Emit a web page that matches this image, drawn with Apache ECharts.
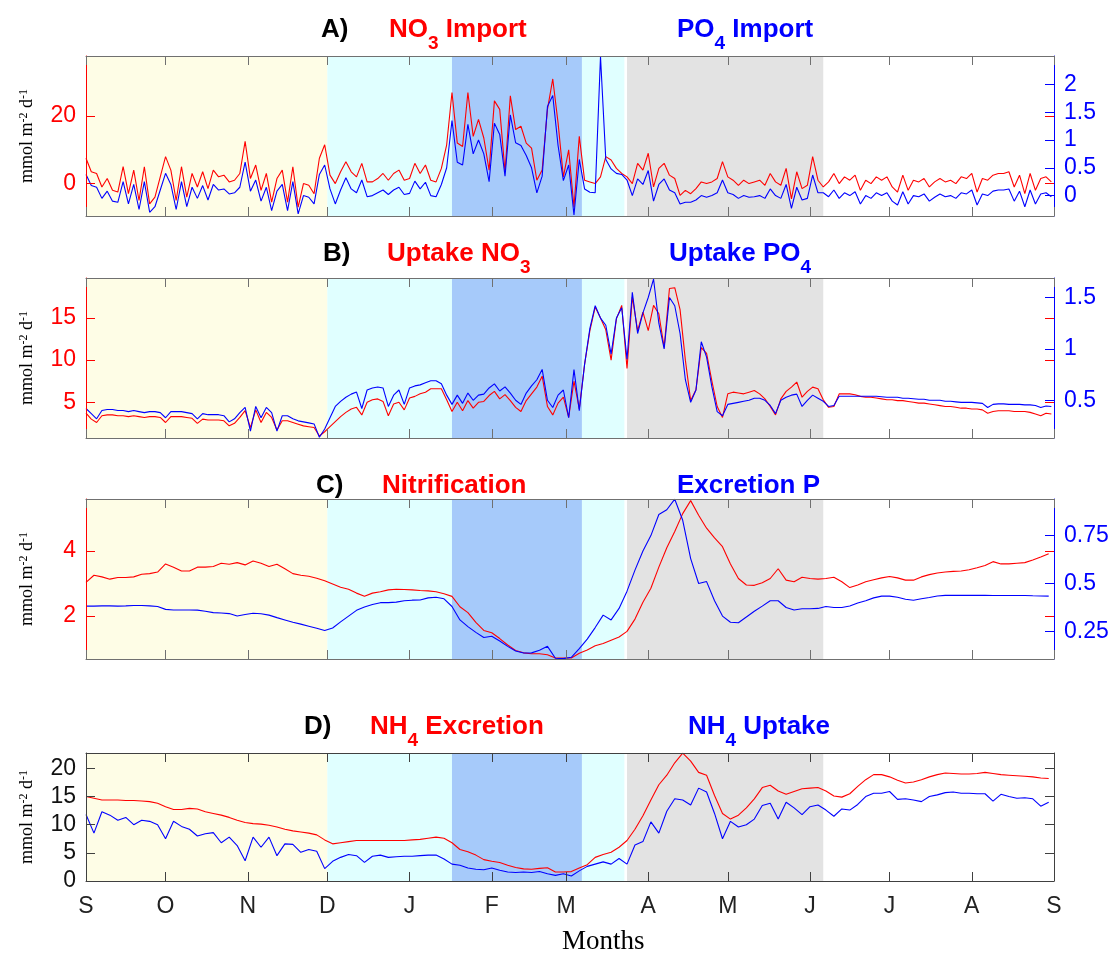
<!DOCTYPE html>
<html>
<head>
<meta charset="utf-8">
<script src="https://cdn.jsdelivr.net/npm/echarts@6/dist/echarts.min.js"></script>
<style>
html, body { margin: 0; padding: 0; background: #fff; }
#main { width: 1114px; height: 955px; }
</style>
</head>
<body>
<div id="main"></div>
<script>
// x is days since 1 September; month starts give the ticks
var monthDays = [0, 30, 61, 91, 122, 153, 181, 212, 242, 273, 303, 334, 365];
var monthLabels = ['S', 'O', 'N', 'D', 'J', 'F', 'M', 'A', 'M', 'J', 'J', 'A', 'S'];

// shaded periods, [start day, end day]
var periods = [[0, 91], [91, 138], [138, 187], [187, 203], [204, 278]];
var periodColors = ['#fefde6', '#e0ffff', '#a6cafa', '#e0ffff', '#e3e3e3'];

// A and B are read every 2 days, C and D every 3 days
var stepAB = 2;
var stepCD = 3;

// A) NO3 import (left axis) / PO4 import (right axis)
var no3Import = [
    7.5, 3.5, 3, -1, 1.5, -2, -2.5, 5, -3, 4, -5, 5, -6, -4, 2, 8, 4, -5, 5, -4,
    3, -1, 3.5, -1.5, 4, 2, 2.5, 0.5, 1, 3, 12.5, 1.5, 5.5, -2, 3, -5.5, 1.5, 4, -5.5, 5,
    -7, 0, -0.5, -3, 7.5, 11.5,
    2.5, 0, 3.5, 6.5, 3.5, 2, 6, 0.5, 0.5, 1.5, 3, 1, 3, 4, 1, 1.5, 6, 3, 5.5, 1,
    0.5, 4.5, 11.5,
    27, 12, 11, 27, 14, 19, 13.5, 4, 24.5, 22, 3.5, 26, 16, 17, 12, 10.5, 1, 4, 22, 31,
    18, 2, 10, -7, 14, 1, 0.5, 0, 2, 8, 7, 4.5, 3, 2,
    0, 6, 4, 9, -1, 4.5, 6, 2.5, 1.5, -3.5, -2, -3, -1.5, 0.5, 0, 0.5, 1.5, 6.5, 2, 1,
    -0.5, 1, 0, 0.5, 1, -0.5, 3, 0.5, -0.5, 4.5, -4.5, 3.5, -1.5, -0.5, 8, 1, -1,
    0.5, 3, 0, 2, 1, 2.5, -2, 1, 0, 2, 1, 2, -1, -2.5, 2.5, -2, 1, 0.5, 1.5, -1,
    0.5, 1.5, 0.5, 1, 0, 2, 1.5, 3, -2.5, 1.5, 1, 2.5, 3, 3, 3.5, -1, 2.5, -3, 3, -2,
    1.5, 2, 0.5
];
var po4Import = [
    0.38, 0.18, 0.15, -0.05, 0.08, -0.1, -0.12, 0.25, -0.15, 0.2, -0.25, 0.25, -0.3, -0.2, 0.1, 0.4, 0.2, -0.25, 0.25, -0.2,
    0.15, -0.05, 0.18, -0.08, 0.2, 0.1, 0.12, 0.03, 0.05, 0.15, 0.6, 0.08, 0.28, -0.1, 0.15, -0.27, 0.08, 0.2, -0.27, 0.25,
    -0.33, 0, -0.03, -0.15, 0.38, 0.55,
    0.12, -0.15, 0.1, 0.32, 0.12, 0.05, 0.28, -0.02, 0, 0.05, 0.1, 0.02, 0.1, 0.15, 0.02, 0.04, 0.26, 0.12, 0.24, 0,
    -0.02, 0.2, 0.5,
    1.35, 0.6, 0.55, 1.28, 0.75, 1.0, 0.75, 0.25, 1.3, 1.1, 0.35, 1.45, 0.95, 0.9, 0.72, 0.5, 0.05, 0.35, 1.6, 1.8,
    0.9, 0.27, 0.55, -0.35, 0.65, 0.12, 0.06, 0.05, 2.5, 0.65, 0.48, 0.4, 0.38, 0.28,
    0.0, 0.3, 0.2, 0.45, -0.1, 0.2, 0.3, 0.1, 0.05, -0.15, -0.12, -0.12, -0.08, 0.0, -0.03, 0.0, 0.05, 0.28, 0.05, 0.02,
    -0.05, 0.0, -0.03, -0.02, 0.0, -0.05, 0.12, 0.0, -0.05, 0.2, -0.23, 0.15, -0.08, -0.05, 0.37, 0.05, 0.05,
    -0.02, 0.1, -0.05, 0.05, 0.0, 0.07, -0.15, 0.0, -0.05, 0.05, 0.0, 0.05, -0.1, -0.17, 0.07, -0.15, 0.0, -0.02, 0.03, -0.1,
    -0.03, 0.03, -0.02, 0.0, -0.05, 0.05, 0.03, 0.1, -0.17, 0.03, 0.0, 0.08, 0.1, 0.1, 0.12, -0.1, 0.08, -0.2, 0.1, -0.15,
    0.03, 0.05, -0.02
];

// B) uptake NO3 (left) / uptake PO4 (right)
var uptakeNO3 = [
    3.7, 3.0, 2.6, 3.4, 3.5, 3.5, 3.4, 3.4, 3.3, 3.4, 3.3, 3.2, 3.3, 3.3, 3.2, 2.6, 3.3, 3.3, 3.3, 3.2,
    3.1, 2.5, 3.0, 2.9, 2.9, 2.9, 2.8, 2.2, 2.5, 3.2, 4.0, 2.0, 4.1, 2.6, 3.8, 3.2, 1.7, 2.8, 2.8, 2.6,
    2.4, 2.2, 2.1, 2.0, 1.0, 1.5,
    2.1, 2.7, 3.3, 3.8, 4.2, 4.4, 3.5, 5.0, 5.3, 5.4, 5.1, 3.4, 4.8, 5.0, 4.1, 5.5, 5.7, 6.0, 6.2, 6.6,
    6.6, 6.6, 5.3,
    3.9, 5.0, 4.0, 5.2, 4.3, 5.0, 5.1, 5.8, 6.3, 5.4, 5.9, 5.2, 4.4, 3.9, 5.2, 6.0, 6.8, 8.1, 4.5, 3.5,
    4.9, 5.6, 3.2, 7.5, 4.2,
    9.5, 13.5, 16.3, 15.0, 13.6, 10.0, 14.9, 16.5,
    9.0, 17.5, 13.5, 15.7, 13.5, 16.5, 15.5, 11.5, 18.5, 18.6, 16, 10, 5.2, 6.5, 11.5, 10.8, 7.5, 4.5, 3.2, 6.0,
    6.2, 6.1, 6.0, 6.2, 6.4, 6.0, 5.4, 4.5, 3.5, 5.4, 6.3, 6.8, 7.4, 5.6, 6.3, 6.8, 6.6, 5.3,
    4.4, 4.5, 6.0, 6.0, 6.0, 5.9, 5.7, 5.6, 5.6, 5.5, 5.4, 5.3, 5.3, 5.2, 5.2, 5.1, 5.0, 4.9, 4.9, 4.8,
    4.7, 4.6, 4.5, 4.5, 4.4, 4.3, 4.3, 4.2, 4.2, 4.1, 3.7, 3.9, 4.0, 4.0, 4.0, 3.9, 3.9, 3.9, 3.8, 3.6,
    3.4, 3.7, 3.6
];
var uptakePO4 = [
    0.42, 0.37, 0.32, 0.40, 0.41, 0.41, 0.40, 0.40, 0.39, 0.40, 0.39, 0.38, 0.39, 0.39, 0.38, 0.33, 0.39, 0.39, 0.39, 0.38,
    0.37, 0.32, 0.37, 0.36, 0.36, 0.36, 0.35, 0.29, 0.32, 0.38, 0.43, 0.2, 0.44, 0.33, 0.43, 0.38, 0.2, 0.35, 0.35, 0.32,
    0.3, 0.29, 0.28, 0.27, 0.14, 0.22,
    0.33, 0.44, 0.49, 0.53, 0.56, 0.58, 0.42, 0.6, 0.62, 0.63, 0.62, 0.44, 0.55, 0.6, 0.46, 0.62, 0.64, 0.65, 0.67, 0.69,
    0.69, 0.66, 0.55,
    0.46, 0.55, 0.47, 0.57, 0.5, 0.55, 0.56, 0.62, 0.66, 0.59, 0.63, 0.57, 0.5, 0.46, 0.57, 0.64, 0.7, 0.8, 0.5, 0.43,
    0.55, 0.6, 0.33, 0.8, 0.4,
    0.85, 1.2, 1.42, 1.3, 1.23, 0.95, 1.3, 1.4,
    0.9, 1.55, 1.15, 1.35, 1.5, 1.68, 1.25, 1.0, 1.5, 1.42, 1.15, 0.7, 0.48, 0.6, 1.07, 0.92, 0.63, 0.39, 0.35, 0.46,
    0.47, 0.48, 0.49, 0.5, 0.52, 0.52, 0.5, 0.45, 0.37, 0.5, 0.53, 0.55, 0.56, 0.44, 0.5, 0.55, 0.52, 0.49,
    0.44, 0.45, 0.54, 0.54, 0.54, 0.54, 0.54, 0.54, 0.54, 0.54, 0.535, 0.53, 0.53, 0.53, 0.52, 0.52, 0.515, 0.51, 0.51, 0.5,
    0.5, 0.5, 0.49, 0.49, 0.485, 0.48, 0.48, 0.48, 0.475, 0.47, 0.43, 0.46, 0.465, 0.465, 0.46, 0.46, 0.46, 0.455, 0.455, 0.45,
    0.43, 0.445, 0.44
];

// C) nitrification (left) / excretion P (right)
var nitrification = [
    3.03, 3.25, 3.2, 3.13, 3.18, 3.18, 3.2, 3.28, 3.3, 3.35,
    3.6, 3.5, 3.38, 3.38, 3.5, 3.5, 3.52, 3.62, 3.59, 3.64,
    3.57, 3.69, 3.62, 3.52, 3.59, 3.45, 3.3, 3.25, 3.22, 3.16,
    3.08, 2.98, 2.88, 2.82, 2.7, 2.6, 2.7, 2.74, 2.8, 2.82,
    2.81, 2.8, 2.78, 2.77, 2.74, 2.68, 2.6, 2.28, 2.1, 1.8,
    1.55, 1.48, 1.3, 1.1, 0.93, 0.86, 0.83, 0.83, 0.8, 0.7,
    0.7, 0.7, 0.85, 0.95, 1.08, 1.15, 1.25, 1.35, 1.52, 1.9,
    2.42, 2.85, 3.5, 4.1, 4.6, 5.15, 5.55, 5.1, 4.7, 4.4,
    4.13, 3.6, 3.15, 2.95, 2.94, 3.02, 3.15, 3.45, 3.1, 3.05,
    3.19, 3.15, 3.13, 3.15, 3.19, 3.05, 2.87, 2.95, 3.05, 3.11,
    3.17, 3.21, 3.17, 3.1, 3.1, 3.2, 3.27, 3.32, 3.35, 3.37,
    3.38, 3.42, 3.48, 3.55, 3.67, 3.6, 3.6, 3.62, 3.64, 3.72,
    3.81, 3.91
];
var excretionP = [
    0.382, 0.382, 0.383, 0.383, 0.382, 0.383, 0.385, 0.385, 0.383, 0.38,
    0.365, 0.362, 0.362, 0.362, 0.361, 0.355, 0.348, 0.346, 0.343, 0.33,
    0.338, 0.345, 0.342, 0.335, 0.322, 0.31, 0.298, 0.288, 0.277, 0.266,
    0.255, 0.268, 0.3, 0.33, 0.36, 0.377, 0.39, 0.4, 0.4, 0.403,
    0.41, 0.413, 0.414, 0.425, 0.428, 0.42, 0.38, 0.31, 0.275, 0.245,
    0.218, 0.225, 0.2, 0.172, 0.148, 0.137, 0.138, 0.152, 0.172, 0.11,
    0.108, 0.115, 0.16, 0.21, 0.27, 0.335, 0.31, 0.37, 0.46, 0.57,
    0.67, 0.75, 0.86, 0.885, 0.94, 0.83, 0.63, 0.5, 0.51, 0.41,
    0.33, 0.298, 0.295, 0.325, 0.355, 0.382, 0.41, 0.41, 0.375, 0.362,
    0.368, 0.368, 0.37, 0.38, 0.375, 0.375, 0.383, 0.398, 0.41, 0.425,
    0.434, 0.434, 0.428, 0.418, 0.413, 0.42, 0.427, 0.435, 0.438, 0.438,
    0.438, 0.439, 0.438, 0.438, 0.437, 0.437, 0.437, 0.437, 0.437, 0.436,
    0.435, 0.434
];

// D) NH4 excretion / NH4 uptake (both left)
var nh4Excretion = [
    15.0, 14.7, 14.4, 14.4, 14.4, 14.3, 14.3, 14.2, 14.1, 13.8,
    13.2, 12.7, 12.7, 12.9, 12.8, 12.3, 12.0, 11.7, 11.3, 10.8,
    10.4, 10.2, 10.1, 9.9, 9.6, 9.2, 8.9, 8.7, 8.5, 8.2,
    7.3, 6.6, 6.8, 7.0, 7.2, 7.2, 7.2, 7.2, 7.2, 7.2,
    7.2, 7.3, 7.4, 7.6, 7.8, 7.6, 6.8, 5.6, 5.2, 4.6,
    3.8, 3.5, 3.3, 2.8, 2.4, 2.15, 2.1, 2.25, 2.35, 1.6,
    1.6, 1.67, 2.3, 2.9, 4.2, 4.7, 5.1, 6.0, 7.2, 9.2,
    11.6, 14.4, 17.1, 18.8, 21.0, 22.7, 21.3, 19.3, 18.8, 15.2,
    12.0, 11.0, 11.7, 13.0, 14.6, 16.6, 17.0, 16.0, 15.4, 15.9,
    16.4, 16.5, 16.6, 16.0, 15.1, 14.9, 15.5, 16.8, 18.0, 18.9,
    18.9, 18.5, 17.9, 17.4, 17.6, 18.0, 18.5, 18.9, 19.2, 19.1,
    19.0, 19.0, 19.1, 19.3, 19.1, 18.9, 18.8, 18.7, 18.6, 18.5,
    18.3, 18.2
];
var nh4Uptake = [
    11.8, 8.5, 12.3, 11.7, 10.8, 11.3, 10.0, 10.8, 10.6, 10.0,
    7.5, 10.6, 9.7, 9.2, 8.0, 8.4, 8.6, 6.8, 7.8, 6.3,
    3.6, 7.8, 6.0, 7.8, 4.5, 6.6, 6.5, 5.1, 5.6, 5.3,
    2.2, 3.5, 4.2, 4.7, 4.5, 3.3, 4.4, 4.6, 4.2, 4.3,
    4.4, 4.4, 4.5, 4.6, 4.6, 3.9, 3.0, 2.8, 2.3, 2.1,
    2.0, 2.3, 1.9, 1.6, 1.5, 1.6, 1.5, 1.7, 1.3, 1.0,
    1.3, 0.9, 1.8, 2.6, 3.0, 3.4, 3.0, 4.0, 3.0, 6.4,
    7.0, 10.5, 8.5, 12.4, 14.6, 14.4, 13.5, 16.5, 15.8, 12.0,
    7.5, 10.6, 9.6, 10.0, 11.0, 13.4, 13.8, 11.0, 14.0, 13.0,
    11.8, 13.2, 13.5, 12.6, 11.5, 12.8, 12.6, 13.6, 15.0, 15.6,
    15.6, 15.9, 14.5, 14.6, 14.4, 14.1, 15.0, 15.3, 15.7, 15.8,
    15.6, 15.6, 15.5, 15.5, 14.2, 15.4, 15.0, 14.7, 14.8, 14.6,
    13.3, 14.0
];

// axis ranges and tick values per panel
var leftRanges = [[-9.6, 37.8], [0.76, 19.75], [0.67, 5.6], [0, 22.74]];
var leftTicks = [[0, 20], [5, 10, 15], [2, 4], [0, 5, 10, 15, 20]];
var rightRanges = [[-0.367, 2.51], [0.133, 1.69], [0.106, 0.941]];
var rightTicks = [[0, 0.5, 1, 1.5, 2], [0.5, 1, 1.5], [0.25, 0.5, 0.75]];

var panelTitles = [
    ['A)', '{r|NO}{rs|3}{r| Import}', '{b|PO}{bs|4}{b| Import}'],
    ['B)', '{r|Uptake NO}{rs|3}', '{b|Uptake PO}{bs|4}'],
    ['C)', '{r|Nitrification}', '{b|Excretion P}'],
    ['D)', '{r|NH}{rs|4}{r| Excretion}', '{b|NH}{bs|4}{b| Uptake}']
];

var RED = '#ff0000';
var BLUE = '#0000ff';
var SANS = 'Liberation Sans';
var SERIF = 'Liberation Serif';

var grids = [
    {left: 86, right: 60, top: 56, height: 160},
    {left: 86, right: 60, top: 278, height: 160},
    {left: 86, right: 60, top: 499, height: 160},
    {left: 86, right: 60, top: 753, height: 128}
];
// [letter x, red text x, blue text x, top]
var titlePos = [[321, 389, 677, 17], [323, 387, 669, 241], [316, 382, 677, 473], [304, 370, 688, 714]];

function toPairs(values, step) {
    return values.map(function (v, i) {
        return [i * step, v];
    });
}

function monthLabel(v) {
    return monthLabels[monthDays.indexOf(v)];
}

var titleRich = {
    k: {fontFamily: SANS, fontSize: 26, fontWeight: 'bold', color: '#000', lineHeight: 30, verticalAlign: 'top'},
    r: {fontFamily: SANS, fontSize: 26, fontWeight: 'bold', color: RED, lineHeight: 30, verticalAlign: 'top'},
    rs: {fontFamily: SANS, fontSize: 19, fontWeight: 'bold', color: RED, lineHeight: 20, verticalAlign: 'top', padding: [17, 0, 0, 0]},
    b: {fontFamily: SANS, fontSize: 26, fontWeight: 'bold', color: BLUE, lineHeight: 30, verticalAlign: 'top'},
    bs: {fontFamily: SANS, fontSize: 19, fontWeight: 'bold', color: BLUE, lineHeight: 20, verticalAlign: 'top', padding: [17, 0, 0, 0]}
};

var unitName = '{m|mmol m}{s|-2}{m| d}{s|-1}';
var unitRich = {
    m: {fontFamily: SERIF, fontSize: 18, color: '#000', lineHeight: 20, verticalAlign: 'top'},
    s: {fontFamily: SERIF, fontSize: 12, color: '#000', lineHeight: 12, verticalAlign: 'top'}
};

var titles = [];
var xAxes = [];
var yAxes = [];
var series = [];

panelTitles.forEach(function (t, g) {
    var p = titlePos[g];
    titles.push({left: p[0], top: p[3], padding: 0, text: '{k|' + t[0] + '}', textStyle: {rich: titleRich}});
    titles.push({left: p[1], top: p[3], padding: 0, text: t[1], textStyle: {rich: titleRich}});
    titles.push({left: p[2], top: p[3], padding: 0, text: t[2], textStyle: {rich: titleRich}});
});
titles.push({
    left: 562, top: 927, padding: 0, text: 'Months',
    textStyle: {fontFamily: SERIF, fontSize: 27, fontWeight: 'normal', color: '#000', lineHeight: 30}
});

grids.forEach(function (grid, g) {
    var boxColor = g === 3 ? '#404040' : '#707070';
    ['bottom', 'top'].forEach(function (pos) {
        xAxes.push({
            type: 'value', gridIndex: g, position: pos, min: 0, max: 365, z: 5,
            axisLine: {show: true, onZero: false, lineStyle: {color: boxColor}},
            axisTick: {show: true, inside: true, length: 9, customValues: monthDays, lineStyle: {color: boxColor}},
            axisLabel: {
                show: g === 3 && pos === 'bottom', customValues: monthDays, formatter: monthLabel,
                fontFamily: SANS, fontSize: 23, color: '#222', margin: 14
            },
            splitLine: {show: false}
        });
    });

    var leftColor = g === 3 ? '#404040' : RED;
    yAxes.push({
        type: 'value', gridIndex: g, position: 'left', min: leftRanges[g][0], max: leftRanges[g][1], z: 5,
        name: unitName, nameLocation: 'middle', nameRotate: 90, nameGap: 48,
        nameTextStyle: {rich: unitRich},
        axisLine: {show: true, onZero: false, lineStyle: {color: leftColor}},
        axisTick: {show: true, inside: true, length: 9, customValues: leftTicks[g], lineStyle: {color: leftColor}},
        axisLabel: {customValues: leftTicks[g], fontFamily: SANS, fontSize: 23, color: g === 3 ? '#111' : RED, margin: 10},
        splitLine: {show: false}
    });
    if (g < 3) {
        yAxes.push({
            type: 'value', gridIndex: g, position: 'right', min: rightRanges[g][0], max: rightRanges[g][1], z: 5,
            axisLine: {show: true, onZero: false, lineStyle: {color: BLUE}},
            axisTick: {show: true, inside: true, length: 9, customValues: rightTicks[g], lineStyle: {color: BLUE}},
            axisLabel: {customValues: rightTicks[g], fontFamily: SANS, fontSize: 23, color: BLUE, margin: 10},
            splitLine: {show: false}
        });
    }
    // left ticks repeated on the right edge
    yAxes.push({
        type: 'value', gridIndex: g, position: 'right', min: leftRanges[g][0], max: leftRanges[g][1], z: 6,
        axisLine: {show: g === 3, onZero: false, lineStyle: {color: '#404040'}},
        axisTick: {show: true, inside: true, length: 9, customValues: leftTicks[g], lineStyle: {color: leftColor}},
        axisLabel: {show: false},
        splitLine: {show: false}
    });
});

var panelData = [
    [no3Import, po4Import, stepAB, 0, 1],
    [uptakeNO3, uptakePO4, stepAB, 3, 4],
    [nitrification, excretionP, stepCD, 6, 7],
    [nh4Excretion, nh4Uptake, stepCD, 9, 9]
];

var shading = periods.map(function (p, i) {
    return [{xAxis: p[0], itemStyle: {color: periodColors[i]}}, {xAxis: p[1]}];
});

panelData.forEach(function (d, g) {
    series.push({
        type: 'line', xAxisIndex: g * 2, yAxisIndex: d[3], data: toPairs(d[0], d[2]),
        showSymbol: false, lineStyle: {color: RED, width: 1.1}, itemStyle: {color: RED},
        markArea: {silent: true, data: shading}
    });
    series.push({
        type: 'line', xAxisIndex: g * 2, yAxisIndex: d[4], data: toPairs(d[1], d[2]),
        showSymbol: false, lineStyle: {color: BLUE, width: 1.1}, itemStyle: {color: BLUE}
    });
});

var chart = echarts.init(document.getElementById('main'));
chart.setOption({
    animation: false,
    backgroundColor: '#fff',
    title: titles,
    grid: grids,
    xAxis: xAxes,
    yAxis: yAxes,
    series: series
});
</script>
</body>
</html>
